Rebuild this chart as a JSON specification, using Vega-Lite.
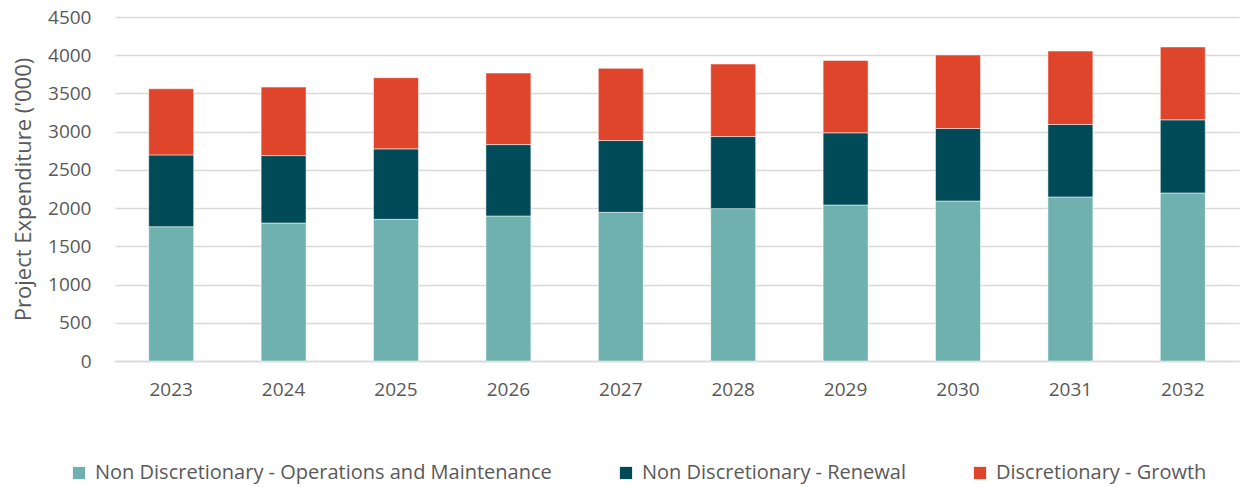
{
  "$schema": "https://vega.github.io/schema/vega-lite/v6.json",
  "width": 1124,
  "height": 344,
  "autosize": {"type": "none"},
  "padding": {"left": 115, "top": 17, "right": 2, "bottom": 126},
  "background": "white",
  "config": {
    "view": {"stroke": null},
    "font": "Open Sans"
  },
  "data": {
    "values": [
      {"year": "2023", "category": "Non Discretionary - Operations and Maintenance", "value": 1756},
      {"year": "2023", "category": "Non Discretionary - Renewal", "value": 940},
      {"year": "2023", "category": "Discretionary - Growth", "value": 865},
      {"year": "2024", "category": "Non Discretionary - Operations and Maintenance", "value": 1805},
      {"year": "2024", "category": "Non Discretionary - Renewal", "value": 882},
      {"year": "2024", "category": "Discretionary - Growth", "value": 896},
      {"year": "2025", "category": "Non Discretionary - Operations and Maintenance", "value": 1853},
      {"year": "2025", "category": "Non Discretionary - Renewal", "value": 922},
      {"year": "2025", "category": "Discretionary - Growth", "value": 931},
      {"year": "2026", "category": "Non Discretionary - Operations and Maintenance", "value": 1897},
      {"year": "2026", "category": "Non Discretionary - Renewal", "value": 934},
      {"year": "2026", "category": "Discretionary - Growth", "value": 936},
      {"year": "2027", "category": "Non Discretionary - Operations and Maintenance", "value": 1945},
      {"year": "2027", "category": "Non Discretionary - Renewal", "value": 939},
      {"year": "2027", "category": "Discretionary - Growth", "value": 944},
      {"year": "2028", "category": "Non Discretionary - Operations and Maintenance", "value": 1993},
      {"year": "2028", "category": "Non Discretionary - Renewal", "value": 943},
      {"year": "2028", "category": "Discretionary - Growth", "value": 949},
      {"year": "2029", "category": "Non Discretionary - Operations and Maintenance", "value": 2041},
      {"year": "2029", "category": "Non Discretionary - Renewal", "value": 944},
      {"year": "2029", "category": "Discretionary - Growth", "value": 947},
      {"year": "2030", "category": "Non Discretionary - Operations and Maintenance", "value": 2093},
      {"year": "2030", "category": "Non Discretionary - Renewal", "value": 948},
      {"year": "2030", "category": "Discretionary - Growth", "value": 962},
      {"year": "2031", "category": "Non Discretionary - Operations and Maintenance", "value": 2146},
      {"year": "2031", "category": "Non Discretionary - Renewal", "value": 948},
      {"year": "2031", "category": "Discretionary - Growth", "value": 961},
      {"year": "2032", "category": "Non Discretionary - Operations and Maintenance", "value": 2198},
      {"year": "2032", "category": "Non Discretionary - Renewal", "value": 957},
      {"year": "2032", "category": "Discretionary - Growth", "value": 953}
    ]
  },
  "transform": [
    {"calculate": "indexof(['Non Discretionary - Operations and Maintenance', 'Non Discretionary - Renewal', 'Discretionary - Growth'], datum.category)", "as": "stackOrder"}
  ],
  "mark": {"type": "bar", "stroke": "white", "strokeOpacity": 0.5, "strokeWidth": 1},
  "encoding": {
    "x": {
      "field": "year",
      "type": "ordinal",
      "scale": {"paddingInner": 0.6, "paddingOuter": 0.3},
      "axis": {
        "title": null,
        "labelAngle": 0,
        "labelFontSize": 19,
        "labelColor": "#595959",
        "labelPadding": 19,
        "ticks": false,
        "domainColor": "#d9d9d9",
        "domainWidth": 1.5,
        "grid": false
      }
    },
    "y": {
      "field": "value",
      "type": "quantitative",
      "aggregate": "sum",
      "stack": "zero",
      "scale": {"domain": [0, 4500], "nice": false},
      "axis": {
        "title": "Project Expenditure ('000)",
        "titleFontSize": 22,
        "titleFontWeight": "normal",
        "titleColor": "#595959",
        "titlePadding": 12,
        "values": [0, 500, 1000, 1500, 2000, 2500, 3000, 3500, 4000, 4500],
        "format": "d",
        "labelFontSize": 19,
        "labelColor": "#595959",
        "labelPadding": 24,
        "ticks": false,
        "domain": false,
        "gridColor": "#d9d9d9",
        "gridWidth": 1.5
      }
    },
    "order": {"field": "stackOrder", "type": "quantitative", "sort": "ascending"},
    "color": {
      "field": "category",
      "type": "nominal",
      "sort": ["Non Discretionary - Operations and Maintenance", "Non Discretionary - Renewal", "Discretionary - Growth"],
      "scale": {
        "domain": ["Non Discretionary - Operations and Maintenance", "Non Discretionary - Renewal", "Discretionary - Growth"],
        "range": ["#6EB1AE", "#014B59", "#DF452A"]
      },
      "legend": {
        "title": null,
        "orient": "none",
        "direction": "horizontal",
        "legendX": -46,
        "legendY": 446,
        "symbolType": "square",
        "symbolSize": 150,
        "symbolStrokeWidth": 0,
        "labelFontSize": 20,
        "labelColor": "#595959",
        "labelLimit": 1000,
        "labelOffset": 6,
        "columnPadding": 64
      }
    }
  }
}
